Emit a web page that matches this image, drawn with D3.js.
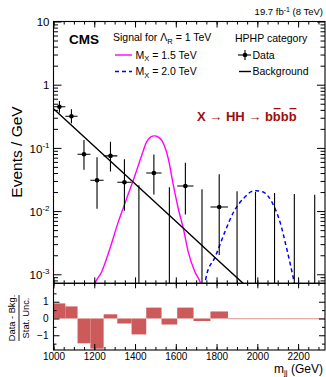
<!DOCTYPE html>
<html><head><meta charset="utf-8">
<script src="https://cdn.jsdelivr.net/npm/d3@7"></script>
<style>
html,body{margin:0;padding:0;background:#fff;}
svg{display:block;font-family:"Liberation Sans",Arial,Helvetica,sans-serif;}
</style></head><body>
<svg id="chart" width="326" height="377"></svg>
<script>
// Dijet mass bin edges (GeV)
const binEdges = [1000,1058,1118,1181,1246,1313,1383,1455,1530,1607,1687,1770,1856,1945,2037,2132,2231,2332];
// Observed events per bin and 68% Poisson interval bounds (events)
const dataCounts = [26,19,5,2,5,2,0,3,0,2,0,1,0,0,0,0,0];
const countLow  = [20.94,14.68,2.84,0.708,2.84,0.708,0,1.367,0,0.708,0,0.173,0,0,0,0,0];
const countHigh = [32.16,24.43,8.38,4.64,8.38,4.64,1.84,5.92,1.84,4.64,1.84,3.30,1.84,1.84,1.84,1.84,1.84];
// Background fit (events / GeV)
const bkgMass  = [1000,1200,1400,1600,1800,2000];
const bkgValue = [0.417,0.106,0.027,0.0069,0.00175,0.000447];
// Signal shapes (events / GeV)
const sig15Mass  = [1185,1204,1236,1277,1318,1359,1400,1433,1457,1476,1495,1513,1531,1563,1588,1612,1637,1661,1694,1719,1735];
const sig15Value = [4.5e-4,7.2e-4,1.09e-3,2.56e-3,6.75e-3,0.0158,0.037,0.0766,0.1245,0.148,0.155,0.149,0.132,0.068,0.0257,0.011,5.3e-3,2.26e-3,1.09e-3,7.6e-4,5e-4];
const sig20Mass  = [1725,1743,1752,1792,1841,1886,1940,1970,1995,2029,2071,2111,2144,2177,2195];
const sig20Value = [5e-4,7.4e-4,1.0e-3,1.85e-3,4.7e-3,1.0e-2,1.68e-2,2.03e-2,2.1e-2,2.0e-2,1.4e-2,6.75e-3,2.56e-3,8.6e-4,4.5e-4];
// (Data - Bkg.) / Stat. Unc. per bin
const pullValue = [0.9,0.72,-1.48,-1.8,0.25,-0.3,-0.95,0.65,-0.36,0.65,-0.15,0.42,-0.04,-0.04,-0.04,-0.04,-0.04];
// Axis ticks
const massTicks = [1000,1200,1400,1600,1800,2000,2200];
const yTicks = [10,1,0.1,0.01,0.001];
const yTickBase = ["10","1","10","10","10"];
const yTickExp  = ["","","-1","-2","-3"];
const pullTicks = [-1,0,1];

const xL = 53.5, xR = 325, yTop = 21.5, yMid = 283.3, yBot = 350;
const svg = d3.select("#chart");

const x  = d3.scaleLinear().domain([1000, 2332]).range([xL, xR]);
const y  = d3.scaleLog().domain([7.2e-4, 10]).range([yMid, yTop]);
const yr = d3.scaleLinear().domain([-1.88, 2.1]).range([yBot, yMid]);

const defs = svg.append("defs");
defs.append("clipPath").attr("id","clipTop").append("rect")
  .attr("x", xL).attr("y", yTop).attr("width", xR - xL).attr("height", yMid - yTop);
defs.append("clipPath").attr("id","clipBot").append("rect")
  .attr("x", xL).attr("y", yMid).attr("width", xR - xL).attr("height", yBot - yMid);

// ---------- upper pad ----------
const upperPad = svg.append("g").attr("clip-path","url(#clipTop)");

// signal curves
const sigLine = d3.line().x(d => x(d[0])).y(d => y(d[1])).curve(d3.curveMonotoneX);
upperPad.append("path").datum(d3.zip(sig15Mass, sig15Value))
  .attr("d", sigLine).attr("fill","none").attr("stroke","#ff00ff").attr("stroke-width",1.4);
upperPad.append("path").datum(d3.zip(sig20Mass, sig20Value))
  .attr("d", sigLine).attr("fill","none").attr("stroke","#0000ff").attr("stroke-width",1.5)
  .attr("stroke-dasharray","4,3");

// background
const bkgLine = d3.line().x(d => x(d[0])).y(d => y(d[1]));
upperPad.append("path").datum(d3.zip(bkgMass, bkgValue))
  .attr("d", bkgLine).attr("fill","none").attr("stroke","#000").attr("stroke-width",1.4);

// data with error bars
const yFloor = 1e-5;
binEdges.slice(0, -1).forEach((lo, i) => {
  const hi = binEdges[i + 1], w = hi - lo, c = (lo + hi) / 2;
  const v = dataCounts[i] / w;
  const vLo = Math.max(countLow[i] / w, yFloor), vHi = countHigh[i] / w;
  upperPad.append("line").attr("x1", x(c)).attr("x2", x(c))
    .attr("y1", y(vLo)).attr("y2", y(vHi)).attr("stroke","#000").attr("stroke-width",1.1);
  if (dataCounts[i] > 0) {
    upperPad.append("line").attr("x1", x(lo)).attr("x2", x(hi))
      .attr("y1", y(v)).attr("y2", y(v)).attr("stroke","#000").attr("stroke-width",1.1);
    upperPad.append("circle").attr("cx", x(c)).attr("cy", y(v)).attr("r", 2.3).attr("fill","#000");
  }
});

// ---------- lower pad ----------
const lowerPad = svg.append("g").attr("clip-path","url(#clipBot)");
pullValue.forEach((p, i) => {
  const lo = binEdges[i], hi = binEdges[i + 1];
  lowerPad.append("rect").attr("x", x(lo)).attr("width", x(hi) - x(lo))
    .attr("y", yr(Math.max(0, p))).attr("height", Math.abs(yr(p) - yr(0)))
    .attr("fill","#cc5a5a");
});

// ---------- axes ----------
const noDomain = g => g.select(".domain").remove();
const minorMass = d3.range(1000, 2332, 50);
const logMinor = [];
for (let k = -4; k <= 0; k++) for (let j = 2; j <= 9; j++) {
  const v = j * Math.pow(10, k);
  if (v > 7.2e-4 && v < 10) logMinor.push(v);
}
const pullMinor = [-1.5,-0.5,0.5,1.5];

function styleAxis(g) { g.attr("font-family", null).attr("font-size", null); g.selectAll("line").attr("stroke","#000"); }

// upper pad x ticks (top and bottom)
svg.append("g").attr("transform",`translate(0,${yTop})`)
  .call(d3.axisTop(x).tickValues(minorMass).tickSize(-3).tickFormat("")).call(noDomain).call(styleAxis);
svg.append("g").attr("transform",`translate(0,${yTop})`)
  .call(d3.axisTop(x).tickValues(massTicks).tickSize(-6).tickFormat("")).call(noDomain).call(styleAxis);
svg.append("g").attr("transform",`translate(0,${yMid})`)
  .call(d3.axisBottom(x).tickValues(minorMass).tickSize(-3).tickFormat("")).call(noDomain).call(styleAxis);
svg.append("g").attr("transform",`translate(0,${yMid})`)
  .call(d3.axisBottom(x).tickValues(massTicks).tickSize(-6).tickFormat("")).call(noDomain).call(styleAxis);

// upper pad y ticks
svg.append("g").attr("transform",`translate(${xL},0)`)
  .call(d3.axisLeft(y).tickValues(logMinor).tickSize(-4.5).tickFormat("")).call(noDomain).call(styleAxis);
svg.append("g").attr("transform",`translate(${xR},0)`)
  .call(d3.axisRight(y).tickValues(logMinor).tickSize(-4.5).tickFormat("")).call(noDomain).call(styleAxis);
svg.append("g").attr("transform",`translate(${xR},0)`)
  .call(d3.axisRight(y).tickValues(yTicks).tickSize(-8).tickFormat("")).call(noDomain).call(styleAxis);
const yAxisTop = svg.append("g").attr("transform",`translate(${xL},0)`)
  .call(d3.axisLeft(y).tickValues(yTicks).tickSize(-8).tickPadding(4).tickFormat(""))
  .call(noDomain).call(styleAxis);
yAxisTop.selectAll(".tick text").each(function(d, i) {
  const t = d3.select(this).attr("font-size", 11.5).attr("fill","#000").attr("dy","0.36em");
  t.append("tspan").text(yTickBase[i]);
  if (yTickExp[i]) t.append("tspan").attr("dy", -4.5).attr("font-size", 8).text(yTickExp[i]);
});

// lower pad x ticks
svg.append("g").attr("transform",`translate(0,${yMid})`)
  .call(d3.axisTop(x).tickValues(minorMass).tickSize(-2.5).tickFormat("")).call(noDomain).call(styleAxis);
svg.append("g").attr("transform",`translate(0,${yMid})`)
  .call(d3.axisTop(x).tickValues(massTicks).tickSize(-5).tickFormat("")).call(noDomain).call(styleAxis);
svg.append("g").attr("transform",`translate(0,${yBot})`)
  .call(d3.axisBottom(x).tickValues(minorMass).tickSize(-3).tickFormat("")).call(noDomain).call(styleAxis);
svg.append("g").attr("transform",`translate(0,${yBot})`)
  .call(d3.axisBottom(x).tickValues(massTicks).tickSize(-6).tickPadding(2.5).tickFormat(d3.format("d")))
  .call(noDomain).call(styleAxis)
  .selectAll("text").attr("font-size", 10).attr("fill","#000");

// lower pad y ticks
svg.append("g").attr("transform",`translate(${xL},0)`)
  .call(d3.axisLeft(yr).tickValues(pullMinor).tickSize(-3).tickFormat("")).call(noDomain).call(styleAxis);
svg.append("g").attr("transform",`translate(${xR},0)`)
  .call(d3.axisRight(yr).tickValues(pullMinor).tickSize(-3).tickFormat("")).call(noDomain).call(styleAxis);
svg.append("g").attr("transform",`translate(${xR},0)`)
  .call(d3.axisRight(yr).tickValues(pullTicks).tickSize(-6).tickFormat("")).call(noDomain).call(styleAxis);
svg.append("g").attr("transform",`translate(${xL},0)`)
  .call(d3.axisLeft(yr).tickValues(pullTicks).tickSize(-6).tickPadding(5).tickFormat(d3.format("d")))
  .call(noDomain).call(styleAxis)
  .selectAll("text").attr("font-size", 10).attr("fill","#000");

// frames
svg.append("rect").attr("x", xL).attr("y", yTop).attr("width", xR - xL).attr("height", yMid - yTop)
  .attr("fill","none").attr("stroke","#000").attr("stroke-width",1.1);
svg.append("rect").attr("x", xL).attr("y", yMid).attr("width", xR - xL).attr("height", yBot - yMid)
  .attr("fill","none").attr("stroke","#000").attr("stroke-width",1.1);

// ---------- titles ----------
svg.append("text").attr("transform","translate(21.5,152) rotate(-90)")
  .attr("text-anchor","middle").attr("font-size",15.5).text("Events / GeV");

const pullTitle = svg.append("g").attr("transform","translate(0,318) rotate(-90)");
pullTitle.append("text").attr("x",0).attr("y",15.3).attr("text-anchor","middle")
  .attr("font-size",9.3).text("Data - Bkg.");
pullTitle.append("line").attr("x1",-23).attr("x2",23).attr("y1",19).attr("y2",19)
  .attr("stroke","#000").attr("stroke-width",0.9);
pullTitle.append("text").attr("x",0).attr("y",28.8).attr("text-anchor","middle")
  .attr("font-size",9.3).text("Stat. Unc.");

const xTitle = svg.append("text").attr("x",323).attr("y",373).attr("text-anchor","end").attr("font-size",12);
xTitle.append("tspan").text("m");
xTitle.append("tspan").attr("dy",2).attr("font-size",8).text("jj");
xTitle.append("tspan").attr("dy",-2).text(" (GeV)");

const lumi = svg.append("text").attr("x",323).attr("y",15).attr("text-anchor","end").attr("font-size",9.5);
lumi.append("tspan").text("19.7 fb");
lumi.append("tspan").attr("dy",-3.5).attr("font-size",7).text("-1");
lumi.append("tspan").attr("dy",3.5).text(" (8 TeV)");

svg.append("text").attr("x",69).attr("y",44).attr("font-size",13.5).attr("font-weight","bold").text("CMS");

// process label with bars over the anti-b quarks
const proc = svg.append("text").attr("x",197).attr("y",120.5).attr("font-size",13)
  .attr("font-weight","bold").attr("fill","#9b0f0f");
proc.append("tspan").text("X ");
proc.append("tspan").attr("font-weight","normal").text("\u2192");
proc.append("tspan").text(" HH ");
proc.append("tspan").attr("font-weight","normal").text("\u2192");
proc.append("tspan").text(" bbbb");
const procNode = proc.node();
const nChar = procNode.getNumberOfChars();
[nChar - 3, nChar - 1].forEach(ci => {
  const s = procNode.getStartPositionOfChar(ci), e = procNode.getEndPositionOfChar(ci);
  svg.append("line").attr("x1", s.x + 0.8).attr("x2", e.x - 0.3).attr("y1", 108.6).attr("y2", 108.6)
    .attr("stroke","#9b0f0f").attr("stroke-width",1.3);
});

// ---------- legend ----------
const lg = svg.append("g").attr("font-size",10.5);
const sigHead = lg.append("text").attr("x",113).attr("y",41);
sigHead.append("tspan").text("Signal for \u039B");
sigHead.append("tspan").attr("dy",2.5).attr("font-size",7.5).text("R");
sigHead.append("tspan").attr("dy",-2.5).text(" = 1 TeV");

lg.append("line").attr("x1",115).attr("x2",132).attr("y1",55).attr("y2",55)
  .attr("stroke","#ff00ff").attr("stroke-width",1.4);
const m15 = lg.append("text").attr("x",135.5).attr("y",58.7);
m15.append("tspan").text("M");
m15.append("tspan").attr("dy",2.5).attr("font-size",7.5).text("X");
m15.append("tspan").attr("dy",-2.5).text(" = 1.5 TeV");

lg.append("line").attr("x1",115).attr("x2",132).attr("y1",71.5).attr("y2",71.5)
  .attr("stroke","#0000ff").attr("stroke-width",1.5).attr("stroke-dasharray","4,3");
const m20 = lg.append("text").attr("x",135.5).attr("y",75.2);
m20.append("tspan").text("M");
m20.append("tspan").attr("dy",2.5).attr("font-size",7.5).text("X");
m20.append("tspan").attr("dy",-2.5).text(" = 2.0 TeV");

lg.append("text").attr("x",235).attr("y",41.5).text("HPHP category");
lg.append("line").attr("x1",238).attr("x2",251).attr("y1",55).attr("y2",55).attr("stroke","#000").attr("stroke-width",1.1);
lg.append("line").attr("x1",245).attr("x2",245).attr("y1",50).attr("y2",60).attr("stroke","#000").attr("stroke-width",1.1);
lg.append("circle").attr("cx",245).attr("cy",55).attr("r",2.3).attr("fill","#000");
lg.append("text").attr("x",252.5).attr("y",58.7).text("Data");
lg.append("line").attr("x1",239).attr("x2",251).attr("y1",71.5).attr("y2",71.5).attr("stroke","#000").attr("stroke-width",1.4);
lg.append("text").attr("x",252.5).attr("y",75.2).text("Background");
</script>
</body></html>
